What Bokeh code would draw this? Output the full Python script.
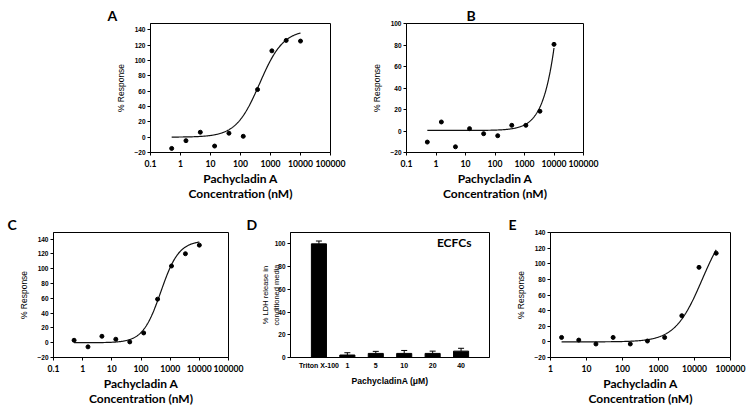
import numpy as np
from bokeh.plotting import figure
from bokeh.layouts import column, row
from bokeh.models import (Range1d, FixedTicker, Label, Whisker, TeeHead,
                          ColumnDataSource)
from bokeh.embed import file_html
from bokeh.resources import INLINE

# ---------------- data ----------------
conc_abc = [0.508, 1.52, 4.57, 13.7, 41.2, 123.5, 370.4, 1111, 3333, 10000]
conc_e = [2.03, 6.1, 18.3, 54.9, 164.6, 493.8, 1481, 4444, 13333, 40000]

resp_a = [-14.7, -4.6, 6.4, -11.6, 5.1, 1.1, 62.0, 112.4, 126.0, 125.1]
resp_b = [-10.3, 8.4, -14.7, 2.2, -2.5, -4.4, 5.3, 5.3, 18.4, 80.6]
resp_c = [3.3, -5.6, 8.7, 4.7, 1.1, 13.2, 58.9, 103.7, 120.3, 131.9]
resp_e = [5.7, 2.3, -2.7, 5.7, -2.7, 1.1, 5.7, 33.5, 95.4, 113.5]

# fitted 4-parameter logistic curves: bottom, top, EC50 (nM), Hill slope
fit_a = (0.0, 140.0, 436.0, 1.1)
fit_b = (0.5, 1000.0, 79500.0, 1.2)
fit_c = (0.0, 138.0, 480.0, 1.4)
fit_e = (0.0, 160.0, 16400.0, 1.15)

ticks_abc = [0.1, 1, 10, 100, 1000, 10000, 100000]
labels_abc = ["0.1", "1", "10", "100", "1000", "10000", "100000"]
ticks_e = [1, 10, 100, 1000, 10000, 100000]
labels_e = ["1", "10", "100", "1000", "10000", "100000"]

resp_ticks = [-20, 0, 20, 40, 60, 80, 100, 120, 140]
resp_ticks_b = [-20, 0, 20, 40, 60, 80, 100]

ldh_cats = ["Triton X-100", "1", "5", "10", "20", "40"]
ldh_vals = [100.0, 2.2, 3.6, 3.6, 3.6, 5.6]
ldh_err = [2.5, 2.0, 1.8, 2.6, 2.0, 2.5]
ldh_ticks = [0, 20, 40, 60, 80, 100]

BIG = "Lato"
SMALL = "Liberation Sans"


def hill(x, fit):
    b, t, ec50, h = fit
    x = np.asarray(x, dtype=float)
    return b + (t - b) / (1.0 + (ec50 / x) ** h)


def base_fig(letter, loff, w, h, mb, **kw):
    p = figure(width=w, height=h,
               min_border_left=mb[0], min_border_right=mb[1],
               min_border_top=mb[2], min_border_bottom=mb[3],
               output_backend="svg", toolbar_location=None,
               background_fill_color="white", border_fill_color="white",
               title=letter, **kw)
    p.title.align = "left"
    p.title.offset = loff
    p.title.standoff = 0
    p.title.text_font = BIG
    p.title.text_font_style = "bold"
    p.title.text_font_size = "14px"
    p.title.text_color = "black"
    p.grid.visible = False
    p.outline_line_color = "black"
    p.outline_line_width = 1
    for ax in p.axis:
        ax.axis_line_color = "black"
        ax.major_tick_line_color = "black"
        ax.minor_tick_line_color = None
        ax.major_tick_in = 0
        ax.major_tick_out = 3
    return p


def dose_panel(letter, loff, conc, resp, fit, xr, ymax, yticks, xticks, xlabels,
               w, h, mb):
    p = base_fig(letter, loff, w, h, mb, x_axis_type="log",
                 x_range=Range1d(xr[0], xr[1]), y_range=Range1d(-20, ymax))
    xs = np.logspace(np.log10(conc[0]), np.log10(conc[-1]), 300)
    p.line(xs, hill(xs, fit), line_color="#111111", line_width=1.2)
    p.scatter(conc, resp, size=4, color="black")

    xa = p.xaxis[0]
    xa.ticker = FixedTicker(ticks=xticks, minor_ticks=[])
    xa.major_label_overrides = {t: l for t, l in zip(xticks, xlabels)}
    xa.major_label_text_font = BIG
    xa.major_label_text_font_style = "bold"
    xa.major_label_text_font_size = "8.6px"
    xa.major_label_text_color = "black"
    xa.major_label_standoff = 4
    xa.axis_label = "Pachycladin A\nConcentration (nM)"
    xa.axis_label_text_font = BIG
    xa.axis_label_text_font_style = "bold"
    xa.axis_label_text_font_size = "12px"
    xa.axis_label_text_line_height = 1.0
    xa.axis_label_text_color = "black"
    xa.axis_label_standoff = 1

    ya = p.yaxis[0]
    ya.ticker = FixedTicker(ticks=yticks, minor_ticks=[])
    ya.major_label_text_font = SMALL
    ya.major_label_text_font_style = "bold"
    ya.major_label_text_font_size = "6.5px"
    ya.major_label_text_color = "black"
    ya.major_label_standoff = 2
    ya.axis_label = "% Response"
    ya.axis_label_text_font = SMALL
    ya.axis_label_text_font_style = "normal"
    ya.axis_label_text_font_size = "8.5px"
    ya.axis_label_text_color = "black"
    ya.axis_label_standoff = 5
    return p


# ---------------- row 1 (height 208) ----------------
pa = dose_panel("A", -43, conc_abc, resp_a, fit_a, (0.1, 100000), 148, resp_ticks,
                ticks_abc, labels_abc, 348, 208, (150, 18, 23, 56))
pb = dose_panel("B", 60, conc_abc, resp_b, fit_b, (0.1, 100000), 100, resp_ticks_b,
                ticks_abc, labels_abc, 404, 208, (58, 169, 23, 56))

# ---------------- row 2 (height 205) ----------------
pc = dose_panel("C", -46, conc_abc, resp_c, fit_c, (0.1, 100000), 149, resp_ticks,
                ticks_abc, labels_abc, 245, 205, (53, 17, 24, 56))
pe = dose_panel("E", -42, conc_e, resp_e, fit_e, (1, 100000), 140, resp_ticks,
                ticks_e, labels_e, 247, 205, (51, 16, 22, 56))

# ---------------- panel D (bar chart) ----------------
xpos = list(range(1, len(ldh_cats) + 1))
pd_ = base_fig("D", -44, 254, 205, (45, 10, 23, 51),
               x_range=Range1d(0, len(ldh_cats) + 1), y_range=Range1d(0, 110))
pd_.vbar(x=xpos, top=ldh_vals, width=0.53, fill_color="black", line_color="black")
wsrc = ColumnDataSource(dict(x=xpos, lower=ldh_vals,
                             upper=[v + e for v, e in zip(ldh_vals, ldh_err)]))
pd_.add_layout(Whisker(source=wsrc, base="x", lower="lower", upper="upper",
                       line_color="black", line_width=1,
                       upper_head=TeeHead(size=6, line_color="black", line_width=1),
                       lower_head=None))
dx = pd_.xaxis[0]
dx.ticker = FixedTicker(ticks=xpos, minor_ticks=[])
dx.major_label_overrides = {i: c for i, c in zip(xpos, ldh_cats)}
dx.major_tick_out = 0
dx.major_label_text_font = SMALL
dx.major_label_text_font_style = "bold"
dx.major_label_text_font_size = "7px"
dx.major_label_text_color = "black"
dx.major_label_standoff = 4
dx.axis_label = "PachycladinA (μM)"
dx.axis_label_text_font = SMALL
dx.axis_label_text_font_style = "bold"
dx.axis_label_text_font_size = "8.6px"
dx.axis_label_text_color = "black"
dx.axis_label_standoff = 4

dy = pd_.yaxis[0]
dy.ticker = FixedTicker(ticks=ldh_ticks, minor_ticks=[])
dy.major_label_text_font = SMALL
dy.major_label_text_font_style = "bold"
dy.major_label_text_font_size = "6.5px"
dy.major_label_text_color = "black"
dy.major_label_standoff = 2
dy.axis_label = "% LDH release in\nconditioned media"
dy.axis_label_text_font = SMALL
dy.axis_label_text_font_style = "normal"
dy.axis_label_text_font_size = "7.5px"
dy.axis_label_text_color = "black"
dy.axis_label_standoff = -9

pd_.add_layout(Label(x=5.15, y=101.5, text="ECFCs", text_font=BIG,
                     text_font_style="bold", text_font_size="12px",
                     text_color="black", text_baseline="middle",
                     text_align="left"))

layout = column(row(pa, pb), row(pc, pd_, pe))

with open("out.html", "w") as f:
    f.write(file_html(layout, INLINE))
